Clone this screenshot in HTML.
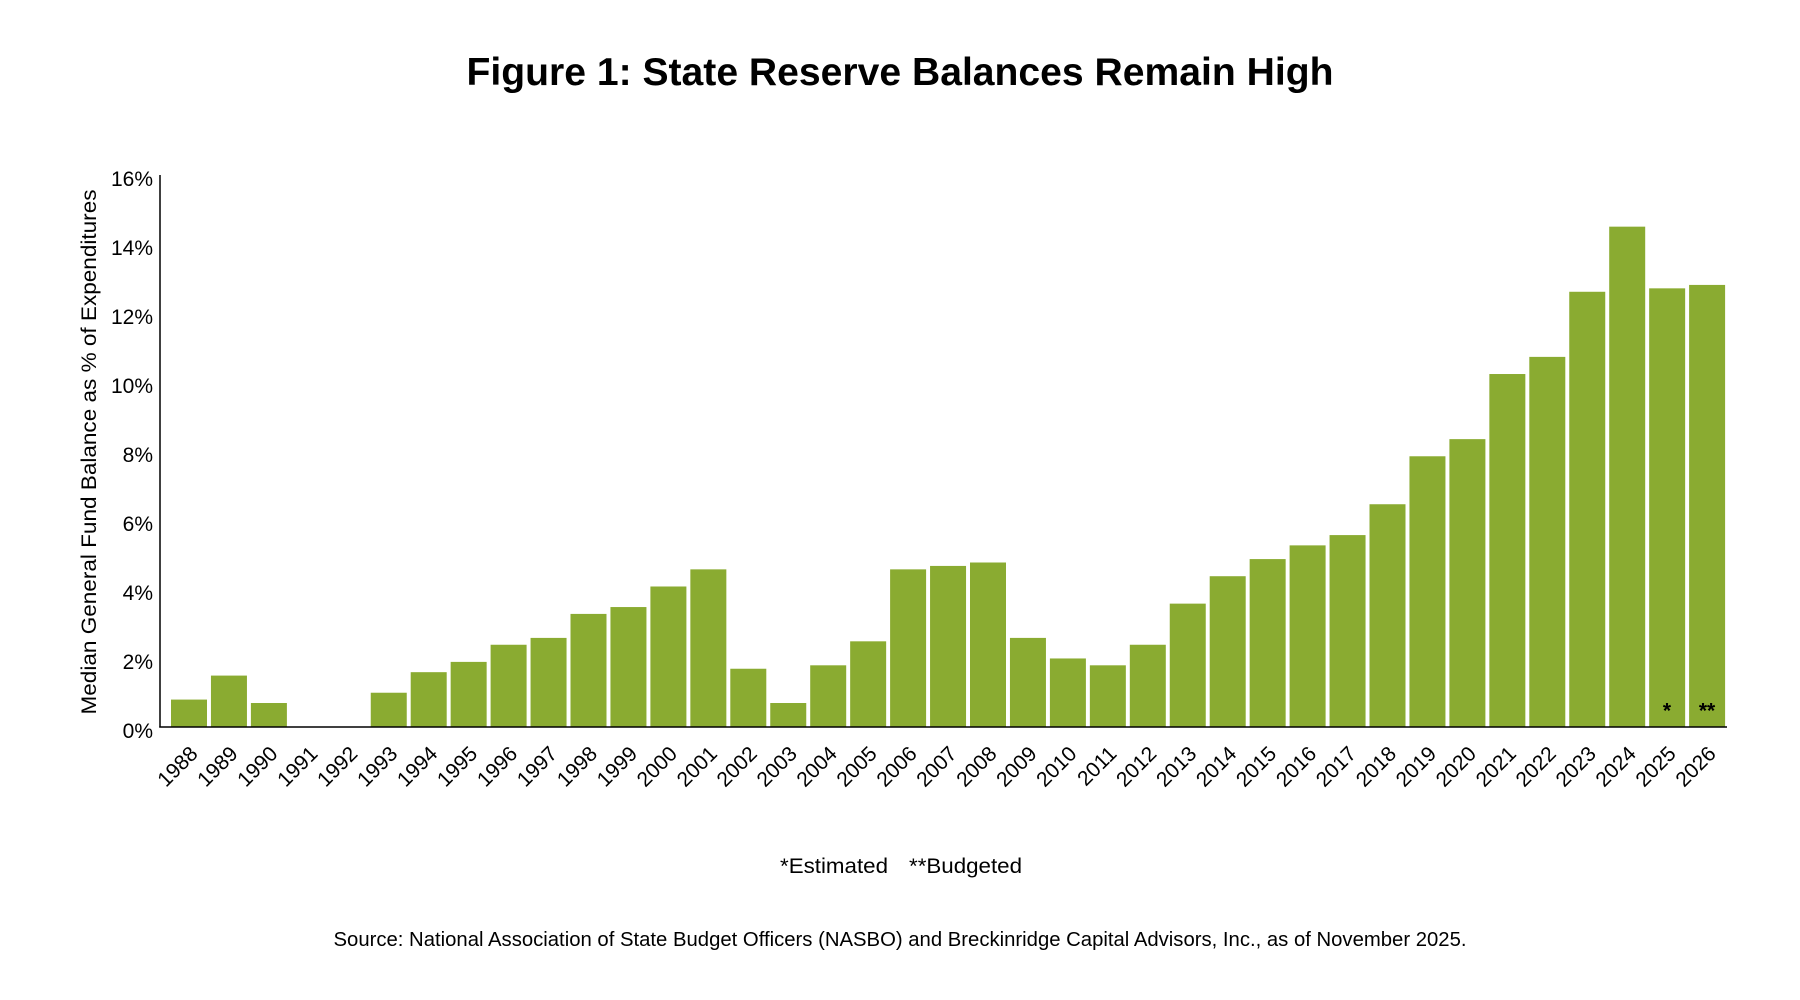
<!DOCTYPE html>
<html>
<head>
<meta charset="utf-8">
<style>
  html, body { margin:0; padding:0; background:#ffffff; }
  body { width:1800px; height:1000px; overflow:hidden; }
  svg { display:block; }
  text { font-family: "Liberation Sans", "DejaVu Sans", sans-serif; fill:#000; }
</style>
</head>
<body>
<svg width="1800" height="1000" viewBox="0 0 1800 1000" xmlns="http://www.w3.org/2000/svg">
  <rect x="0" y="0" width="1800" height="1000" fill="#ffffff"/>

  <!-- Title -->
  <text x="900" y="85" font-size="39" font-weight="bold" text-anchor="middle" textLength="867" lengthAdjust="spacingAndGlyphs">Figure 1: State Reserve Balances Remain High</text>

  <!-- Y axis title -->
  <text transform="translate(96,452) rotate(-90)" font-size="21" text-anchor="middle" textLength="525" lengthAdjust="spacingAndGlyphs">Median General Fund Balance as % of Expenditures</text>

  <!-- Y tick labels -->
  <g font-size="21" text-anchor="end">
    <text x="153" y="738">0%</text>
    <text x="153" y="669">2%</text>
    <text x="153" y="600">4%</text>
    <text x="153" y="531">6%</text>
    <text x="153" y="462">8%</text>
    <text x="153" y="393">10%</text>
    <text x="153" y="324">12%</text>
    <text x="153" y="255">14%</text>
    <text x="153" y="186">16%</text>
  </g>

  <!-- Bars -->
  <g fill="#8aab31">
    <rect x="171" y="699.58" width="36" height="27.42"/>
    <rect x="210.95" y="675.59" width="36" height="51.41"/>
    <rect x="250.9" y="703.01" width="36" height="23.99"/>
    <rect x="370.75" y="692.73" width="36" height="34.27"/>
    <rect x="410.7" y="672.17" width="36" height="54.83"/>
    <rect x="450.65" y="661.89" width="36" height="65.11"/>
    <rect x="490.6" y="644.75" width="36" height="82.25"/>
    <rect x="530.55" y="637.9" width="36" height="89.1"/>
    <rect x="570.5" y="613.91" width="36" height="113.09"/>
    <rect x="610.45" y="607.05" width="36" height="119.95"/>
    <rect x="650.4" y="586.49" width="36" height="140.51"/>
    <rect x="690.35" y="569.36" width="36" height="157.64"/>
    <rect x="730.3" y="668.74" width="36" height="58.26"/>
    <rect x="770.25" y="703.01" width="36" height="23.99"/>
    <rect x="810.2" y="665.31" width="36" height="61.69"/>
    <rect x="850.15" y="641.32" width="36" height="85.68"/>
    <rect x="890.1" y="569.36" width="36" height="157.64"/>
    <rect x="930.05" y="565.93" width="36" height="161.07"/>
    <rect x="970" y="562.5" width="36" height="164.5"/>
    <rect x="1009.95" y="637.9" width="36" height="89.1"/>
    <rect x="1049.9" y="658.46" width="36" height="68.54"/>
    <rect x="1089.85" y="665.31" width="36" height="61.69"/>
    <rect x="1129.8" y="644.75" width="36" height="82.25"/>
    <rect x="1169.75" y="603.63" width="36" height="123.37"/>
    <rect x="1209.7" y="576.21" width="36" height="150.79"/>
    <rect x="1249.65" y="559.08" width="36" height="167.92"/>
    <rect x="1289.6" y="545.37" width="36" height="181.63"/>
    <rect x="1329.55" y="535.09" width="36" height="191.91"/>
    <rect x="1369.5" y="504.24" width="36" height="222.76"/>
    <rect x="1409.45" y="456.27" width="36" height="270.73"/>
    <rect x="1449.4" y="439.13" width="36" height="287.87"/>
    <rect x="1489.35" y="374.02" width="36" height="352.98"/>
    <rect x="1529.3" y="356.88" width="36" height="370.12"/>
    <rect x="1569.25" y="291.77" width="36" height="435.23"/>
    <rect x="1609.2" y="226.66" width="36" height="500.34"/>
    <rect x="1649.15" y="288.34" width="36" height="438.66"/>
    <rect x="1689.1" y="284.92" width="36" height="442.08"/>
  </g>

  <!-- Asterisks inside bars -->
  <g font-size="21" font-weight="bold" text-anchor="middle">
    <text x="1667" y="717.5">*</text>
    <text x="1707" y="717.5">**</text>
  </g>

  <!-- Axes -->
  <line x1="160" y1="175" x2="160" y2="727.5" stroke="#000" stroke-width="1.5"/>
  <line x1="159.25" y1="727" x2="1727" y2="727" stroke="#000" stroke-width="1.5"/>

  <!-- X labels -->
  <g font-size="21" text-anchor="end">
    <text transform="translate(193,749) rotate(-45)" y="8.5">1988</text>
    <text transform="translate(232.95,749) rotate(-45)" y="8.5">1989</text>
    <text transform="translate(272.9,749) rotate(-45)" y="8.5">1990</text>
    <text transform="translate(312.85,749) rotate(-45)" y="8.5">1991</text>
    <text transform="translate(352.8,749) rotate(-45)" y="8.5">1992</text>
    <text transform="translate(392.75,749) rotate(-45)" y="8.5">1993</text>
    <text transform="translate(432.7,749) rotate(-45)" y="8.5">1994</text>
    <text transform="translate(472.65,749) rotate(-45)" y="8.5">1995</text>
    <text transform="translate(512.6,749) rotate(-45)" y="8.5">1996</text>
    <text transform="translate(552.55,749) rotate(-45)" y="8.5">1997</text>
    <text transform="translate(592.5,749) rotate(-45)" y="8.5">1998</text>
    <text transform="translate(632.45,749) rotate(-45)" y="8.5">1999</text>
    <text transform="translate(672.4,749) rotate(-45)" y="8.5">2000</text>
    <text transform="translate(712.35,749) rotate(-45)" y="8.5">2001</text>
    <text transform="translate(752.3,749) rotate(-45)" y="8.5">2002</text>
    <text transform="translate(792.25,749) rotate(-45)" y="8.5">2003</text>
    <text transform="translate(832.2,749) rotate(-45)" y="8.5">2004</text>
    <text transform="translate(872.15,749) rotate(-45)" y="8.5">2005</text>
    <text transform="translate(912.1,749) rotate(-45)" y="8.5">2006</text>
    <text transform="translate(952.05,749) rotate(-45)" y="8.5">2007</text>
    <text transform="translate(992,749) rotate(-45)" y="8.5">2008</text>
    <text transform="translate(1031.95,749) rotate(-45)" y="8.5">2009</text>
    <text transform="translate(1071.9,749) rotate(-45)" y="8.5">2010</text>
    <text transform="translate(1111.85,749) rotate(-45)" y="8.5">2011</text>
    <text transform="translate(1151.8,749) rotate(-45)" y="8.5">2012</text>
    <text transform="translate(1191.75,749) rotate(-45)" y="8.5">2013</text>
    <text transform="translate(1231.7,749) rotate(-45)" y="8.5">2014</text>
    <text transform="translate(1271.65,749) rotate(-45)" y="8.5">2015</text>
    <text transform="translate(1311.6,749) rotate(-45)" y="8.5">2016</text>
    <text transform="translate(1351.55,749) rotate(-45)" y="8.5">2017</text>
    <text transform="translate(1391.5,749) rotate(-45)" y="8.5">2018</text>
    <text transform="translate(1431.45,749) rotate(-45)" y="8.5">2019</text>
    <text transform="translate(1471.4,749) rotate(-45)" y="8.5">2020</text>
    <text transform="translate(1511.35,749) rotate(-45)" y="8.5">2021</text>
    <text transform="translate(1551.3,749) rotate(-45)" y="8.5">2022</text>
    <text transform="translate(1591.25,749) rotate(-45)" y="8.5">2023</text>
    <text transform="translate(1631.2,749) rotate(-45)" y="8.5">2024</text>
    <text transform="translate(1671.15,749) rotate(-45)" y="8.5">2025</text>
    <text transform="translate(1711.1,749) rotate(-45)" y="8.5">2026</text>
  </g>

  <!-- Legend note -->
  <text x="780" y="873" font-size="21" textLength="108" lengthAdjust="spacingAndGlyphs">*Estimated</text>
  <text x="909" y="873" font-size="21" textLength="113" lengthAdjust="spacingAndGlyphs">**Budgeted</text>

  <!-- Source -->
  <text x="333.5" y="946" font-size="20" textLength="1133" lengthAdjust="spacingAndGlyphs">Source: National Association of State Budget Officers (NASBO) and Breckinridge Capital Advisors, Inc., as of November 2025.</text>
</svg>
</body>
</html>
